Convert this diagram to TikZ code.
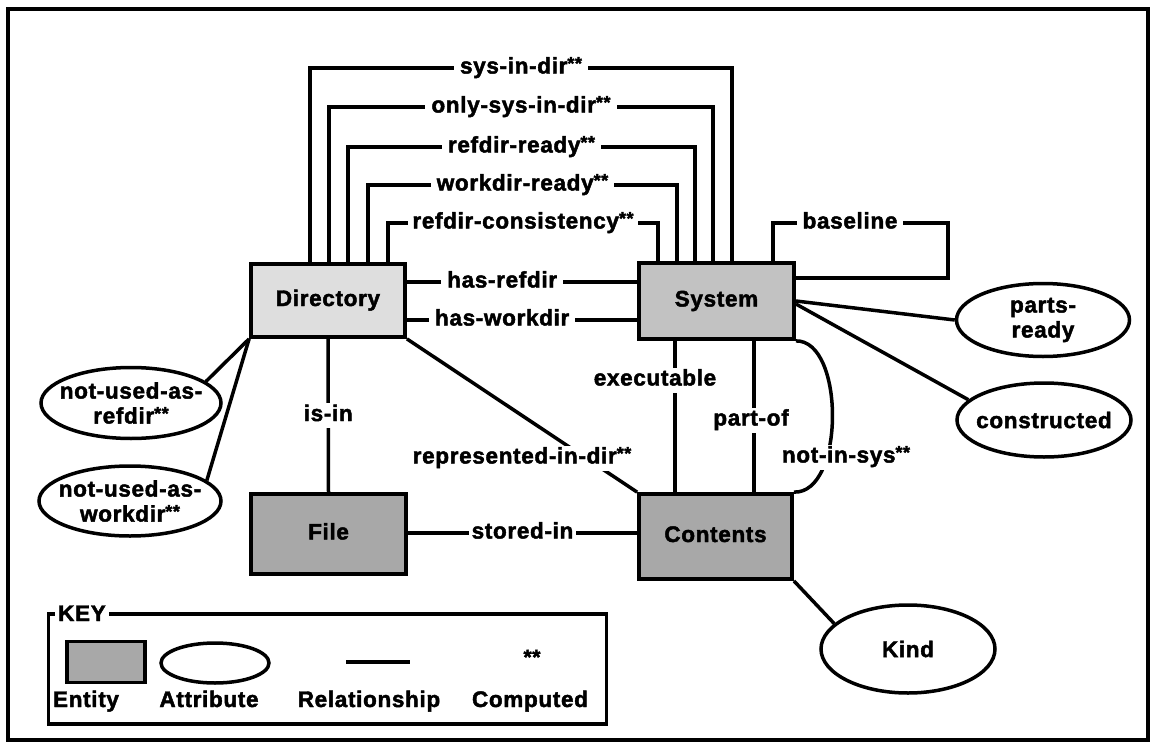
\documentclass[tikz,border=0pt]{standalone}
\usepackage{fontspec}
\setmainfont{Liberation Sans}[LetterSpace=3,FakeBold=2]
\usetikzlibrary{shapes.geometric}
\definecolor{dirfill}{gray}{0.87}
\definecolor{sysfill}{gray}{0.76}
\definecolor{entfill}{gray}{0.66}
% computed-relationship marker
\newcommand{\twostar}{\raisebox{4pt}{\fontsize{18}{18}\selectfont **}}
\begin{document}
\begin{tikzpicture}[x=1pt,y=-1pt,line width=3.5pt,
  every node/.style={font=\fontsize{22.5}{25}\selectfont\bfseries},
  ent/.style={draw,rectangle,line width=3.8pt,inner sep=0pt,text height=16pt,text depth=5pt},
  attr/.style={draw,ellipse,line width=3.5pt,inner sep=-14pt,align=center},
  lab/.style={fill=white,inner xsep=6pt,inner ysep=2pt,text height=16pt,text depth=5pt}]
\useasboundingbox (0,0) rectangle (1152,744);
\draw[line width=4pt] (8,9) rectangle (1148,740);

% entities
\node[ent,fill=dirfill,minimum width=154pt,minimum height=73pt] (dir) at (328,300.5) {Directory};
\node[ent,fill=sysfill,minimum width=155pt,minimum height=76pt] (sys) at (716.5,301) {System};
\node[ent,fill=entfill,minimum width=155pt,minimum height=80pt] (file) at (328.5,534) {File};
\node[ent,fill=entfill,minimum width=153pt,minimum height=85pt] (cont) at (715.5,536.5) {Contents};

% attributes
\node[attr,minimum width=180pt,minimum height=71pt] (nur) at (131,403) {not-used-as-\\refdir\twostar};
\node[attr,minimum width=182pt,minimum height=70pt] (nuw) at (130,501) {not-used-as-\\workdir\twostar};
\node[attr,minimum width=173pt,minimum height=73pt] (pr) at (1043,320) {parts-\\ready};
\node[attr,minimum width=174pt,minimum height=74pt] (con) at (1044,420) {constructed};
\node[attr,minimum width=174pt,minimum height=88pt] (kind) at (908,649) {Kind};

% nested relationships between Directory and System
\draw (310,0 |- dir.north) -- (310,68) -- node[lab] {sys-in-dir\twostar} (732,68) -- (732,0 |- sys.north);
\draw (329,0 |- dir.north) -- (329,107) -- node[lab] {only-sys-in-dir\twostar} (713,107) -- (713,0 |- sys.north);
\draw (348,0 |- dir.north) -- (348,147) -- node[lab] {refdir-ready\twostar} (695,147) -- (695,0 |- sys.north);
\draw (368,0 |- dir.north) -- (368,185) -- node[lab] {workdir-ready\twostar} (677,185) -- (677,0 |- sys.north);
\draw (388,0 |- dir.north) -- (388,223) -- node[lab,inner xsep=4pt] {refdir-consistency\twostar} (658,223) -- (658,0 |- sys.north);
\draw (dir.east |- 0,282) -- node[lab,pos=0.414] {has-refdir} (sys.west |- 0,282);
\draw (dir.east |- 0,320) -- node[lab,pos=0.414] {has-workdir} (sys.west |- 0,320);

% System self relationship and attributes
\draw (773,0 |- sys.north) -- (773,223) -- node[lab,pos=0.44] {baseline} (948,223) -- (948,278) -- (sys.east |- 0,278);
\draw (sys.east) -- (pr.west);
\draw ([yshift=-3pt]sys.east) -- (con.165);

% Directory attributes
\draw (dir.south west) -- (nur.16);
\draw (dir.south west) -- (nuw.15);

% lower relationships
\draw (dir.south) -- node[lab] {is-in} (file.north);
\draw (dir.south east) -- (cont.north west);
\node[lab] (rid) at (522,458) {represented-in-dir\twostar};
\draw (675,0 |- sys.south) -- (675,0 |- cont.north);
\node[lab] (exe) at (655,380) {executable};
\draw (754,0 |- sys.south) -- (754,0 |- cont.north);
\node[lab] (pof) at (751,420) {part-of};
\draw (sys.south east) .. controls (845,340) and (845,494) .. (cont.north east);
\node[lab] (nis) at (846,457) {not-in-sys\twostar};
\draw (file.east |- 0,533) -- node[lab,inner xsep=3pt] {stored-in} (cont.west |- 0,533);
\draw (cont.south east) -- (kind.161);

% key
\node[draw,line width=3.5pt,minimum width=558pt,minimum height=110pt,inner sep=0pt] (key) at (327.5,669) {};
\node[fill=white,inner xsep=3pt,inner ysep=1pt,text height=16pt,text depth=0pt] (keyt) at (82,613) {KEY};
\node[ent,fill=entfill,minimum width=78pt,minimum height=41pt] (kent) at (106,662) {};
\node[attr,minimum width=108pt,minimum height=40pt] (katt) at (215,663) {};
\coordinate (kr1) at (346,662);
\coordinate (kr2) at (410,662);
\draw (kr1) -- (kr2);
\node (kstar) at (532,657) {\fontsize{21}{21}\selectfont **};
\node[anchor=base] (klent) at (86,707) {Entity};
\node[anchor=base] (klatt) at (209,707) {Attribute};
\node[anchor=base] (klrel) at (369,707) {Relationship};
\node[anchor=base] (klcmp) at (530,707) {Computed};
\end{tikzpicture}
\end{document}
